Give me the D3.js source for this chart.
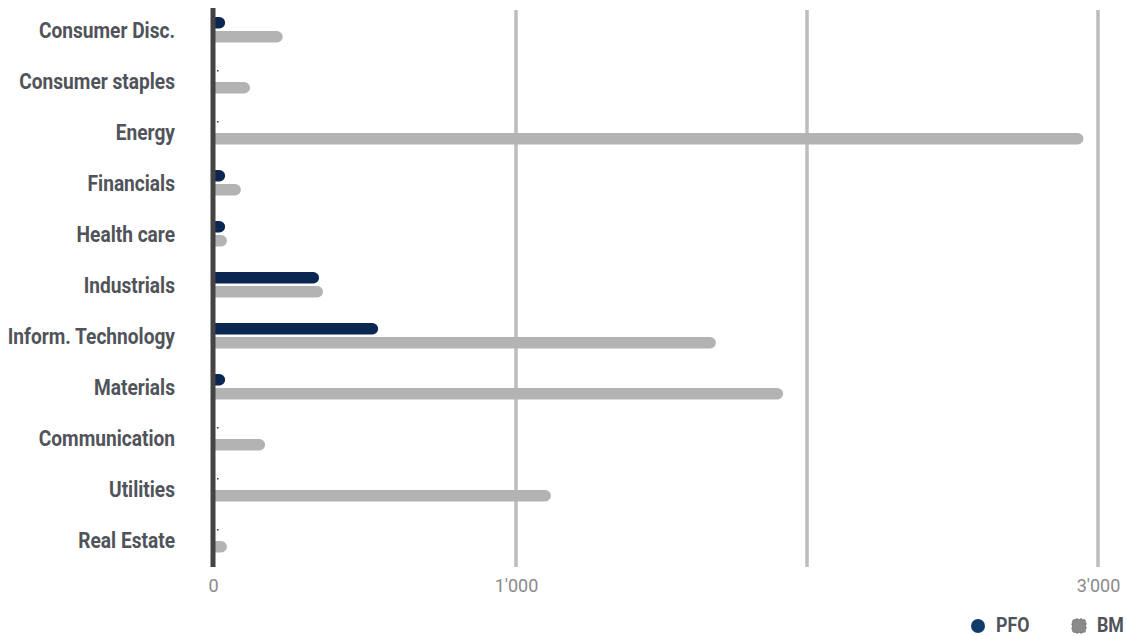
<!DOCTYPE html>
<html>
<head>
<meta charset="utf-8">
<script src="https://cdn.jsdelivr.net/npm/d3@7"></script>
<style>
  html, body { margin: 0; padding: 0; background: #fff; }
  svg { display: block; }
  .cat { font-family: "Roboto", "Noto Sans", sans-serif; font-weight: 700; font-size: 21.5px; fill: #50545a; }
  .tick text { font-family: "Roboto", "Open Sans", sans-serif; font-size: 18px; fill: #8a8a8a; }
  .leg { font-family: "Roboto", "Noto Sans", sans-serif; font-weight: 700; font-size: 20px; fill: #50545a; }
</style>
</head>
<body>
<svg id="chart" width="1127" height="636"></svg>
<script>
const categories = ["Consumer Disc.", "Consumer staples", "Energy", "Financials", "Health care",
  "Industrials", "Inform. Technology", "Materials", "Communication", "Utilities", "Real Estate"];
const pfoValues = [40, 0, 0, 40, 40, 350, 545, 40, 0, 0, 0];
const bmValues  = [230, 122, 2950, 92, 46, 363, 1687, 1918, 172, 1120, 46];
const tickValues = [0, 1000, 2000, 3000];
const tickLabels = ["0", "1'000", "", "3'000"];
const seriesNames = ["PFO", "BM"];

const svg = d3.select("#chart");
const x = d3.scaleLinear().domain([0, 1000, 3000]).range([213, 516, 1098]);
const y = d3.scaleBand().domain(categories).range([4.5, 565.5]);
const barH = 11.5;
const plotTop = 9, plotBottom = 567;
const squeeze = 0.89;

svg.append("defs").append("clipPath").attr("id", "plotclip")
  .append("rect").attr("x", x(0)).attr("y", 0).attr("width", 1127 - x(0)).attr("height", 636);

// gridlines
svg.append("g").selectAll("line").data(tickValues.slice(1)).join("line")
  .attr("x1", d => x(d)).attr("x2", d => x(d))
  .attr("y1", plotTop + 1).attr("y2", plotBottom)
  .attr("stroke", "#bdbdbd").attr("stroke-width", 3.5);

// x axis labels
const xAxis = d3.axisBottom(x).tickValues(tickValues)
  .tickFormat((d, i) => tickLabels[i]).tickSize(0).tickPadding(0);
const gx = svg.append("g").attr("transform", `translate(0,${plotBottom})`).call(xAxis);
gx.select(".domain").remove();
gx.selectAll(".tick text").attr("dy", "0").attr("y", 25);

// bars
const bandC = d => y(d) + y.bandwidth() / 2;
const rows = categories.map((c, i) => ({ c, pfo: pfoValues[i], bm: bmValues[i] }));

const g = svg.append("g").attr("clip-path", "url(#plotclip)");
g.selectAll("rect.bm").data(rows).join("rect").attr("class", "bm")
  .attr("x", x(0) - 8).attr("y", d => bandC(d.c) + 1)
  .attr("width", d => x(d.bm) - x(0) + 8).attr("height", barH)
  .attr("rx", barH / 2).attr("fill", "#b3b3b3");
g.selectAll("rect.pfo").data(rows.filter(d => d.pfo > 0)).join("rect").attr("class", "pfo")
  .attr("x", x(0) - 8).attr("y", d => bandC(d.c) - barH - 1.5)
  .attr("width", d => x(d.pfo) - x(0) + 8).attr("height", barH)
  .attr("rx", barH / 2).attr("fill", "#0b2650");
// zero-value PFO markers
g.selectAll("rect.pfo0").data(rows.filter(d => d.pfo === 0)).join("rect").attr("class", "pfo0")
  .attr("x", x(0) + 4).attr("y", d => bandC(d.c) - barH + 0.5)
  .attr("width", 1.5).attr("height", 1.5).attr("fill", "#333");

// category axis line
svg.append("line").attr("x1", x(0)).attr("x2", x(0))
  .attr("y1", plotTop - 1).attr("y2", plotBottom)
  .attr("stroke", "#444").attr("stroke-width", 5);

// category labels (condensed look)
svg.append("g").selectAll("text").data(categories).join("text").attr("class", "cat")
  .attr("transform", d => `translate(175,${bandC(d)}) scale(${squeeze},1)`)
  .attr("dy", "0.36em").attr("text-anchor", "end").text(d => d);

// legend
const legY = 625;
const leg = svg.append("g");
leg.append("circle").attr("cx", 978).attr("cy", legY + 1).attr("r", 7).attr("fill", "#0f3d6b");
leg.append("text").attr("class", "leg").attr("transform", `translate(996,${legY}) scale(${squeeze},1)`)
  .attr("dy", "0.36em").text(seriesNames[0]);
leg.append("rect").attr("x", 1072).attr("y", legY - 6).attr("width", 14).attr("height", 14).attr("rx", 4)
  .attr("fill", "#8a8a8a").attr("stroke", "#6f6f6f").attr("stroke-dasharray", "2,2");
leg.append("text").attr("class", "leg").attr("transform", `translate(1097,${legY}) scale(${squeeze},1)`)
  .attr("dy", "0.36em").text(seriesNames[1]);
</script>
</body>
</html>
